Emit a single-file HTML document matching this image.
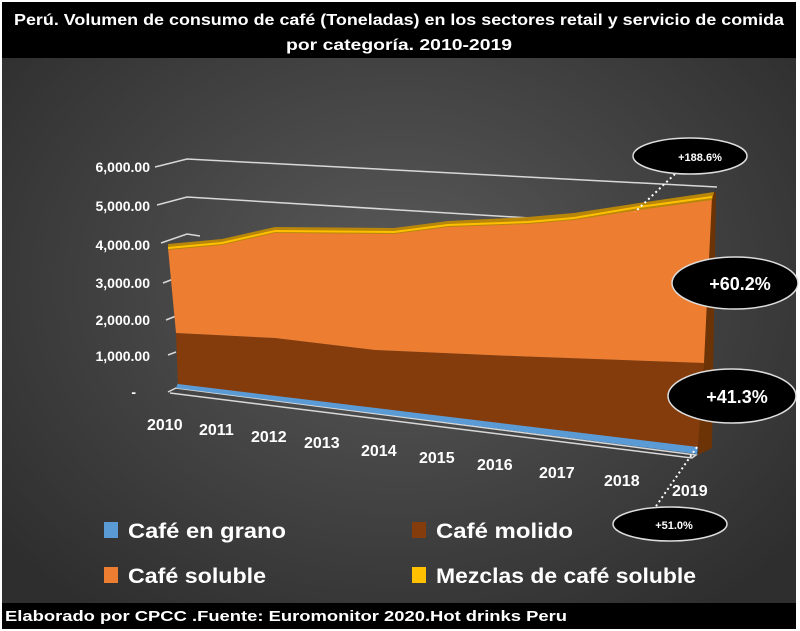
<!DOCTYPE html>
<html><head><meta charset="utf-8"><style>
html,body{margin:0;padding:0;background:#fff}
svg{display:block}
text{font-family:"Liberation Sans",sans-serif;fill:#fff;font-weight:bold}
</style></head><body>
<svg width="800" height="631" viewBox="0 0 800 631">
<defs>
<radialGradient id="bg" cx="50%" cy="45%" r="65%">
<stop offset="0" stop-color="#5a5a5a"/><stop offset="1" stop-color="#2e2e2e"/>
</radialGradient>
</defs>
<rect x="0" y="0" width="800" height="631" fill="#fff"/>
<rect x="2" y="2" width="794" height="627" fill="url(#bg)"/>
<rect x="2" y="2" width="794" height="56" fill="#000"/>
<text x="399" y="25" text-anchor="middle" font-size="16" textLength="770" lengthAdjust="spacingAndGlyphs">Perú. Volumen de consumo de café (Toneladas) en los sectores retail y servicio de comida</text>
<text x="399" y="50" text-anchor="middle" font-size="16" textLength="226" lengthAdjust="spacingAndGlyphs">por categoría. 2010-2019</text>

<g stroke="#d8d8d8" stroke-width="1.5" fill="none">
<polyline points="155,167 187,159 717,187"/>
<polyline points="157,205 187,197 530,218"/>
<polyline points="161,243 187,234 200,236"/>
<line x1="163" y1="283" x2="176" y2="278"/>
<line x1="166" y1="320" x2="176" y2="316"/>
<line x1="168" y1="355" x2="176" y2="352"/>
<polyline points="168,392 176,388 696,455 692,458 170,393"/>
</g>
<g font-size="14" text-anchor="end">
<text x="150" y="172">6,000.00</text>
<text x="150" y="211">5,000.00</text>
<text x="150" y="250">4,000.00</text>
<text x="150" y="288">3,000.00</text>
<text x="150" y="325">2,000.00</text>
<text x="150" y="361">1,000.00</text>
<text x="136" y="397">-</text>
</g>

<polygon points="704,196 716,192 712,448 698,455" fill="#6b3306"/>
<polygon points="178,383 698,446 697,454 176,388" fill="#5b9bd5"/>
<polygon points="176,333 275,338 375,350 513,356 704,363 698,447 178,384" fill="#843c0c"/>
<polygon points="168,248 222,243 275,231 394,232 448,225 528,222 574,218 639,208 712,197 704,363 513,356 375,350 275,338 176,333" fill="#ed7d31"/>
<polygon points="168,244 222,239 275,227 394,228 448,221 528,217 574,213 639,203 714,192 712,200 639,210 574,220 528,224 448,227 394,234 275,233 222,245 168,250" fill="#b8860b"/>
<polyline points="168,248 222,243 275,231 394,232 448,225 528,222 574,218 639,207 712,197" fill="none" stroke="#ffc000" stroke-width="2"/>

<g stroke="#fff" stroke-width="2" stroke-dasharray="2,3" fill="none">
<line x1="675" y1="174" x2="635" y2="212"/>
<line x1="697" y1="447" x2="652" y2="512"/>
</g>
<g fill="#000" stroke="#ddd" stroke-width="1.5">
<ellipse cx="690" cy="156" rx="57" ry="18"/>
<ellipse cx="735" cy="283" rx="63" ry="26"/>
<ellipse cx="732" cy="396" rx="64" ry="27"/>
<ellipse cx="670" cy="524" rx="57" ry="17"/>
</g>
<text x="700" y="161" text-anchor="middle" font-size="11" font-weight="normal">+188.6%</text>
<text x="740" y="290" text-anchor="middle" font-size="18">+60.2%</text>
<text x="737" y="403" text-anchor="middle" font-size="18">+41.3%</text>
<text x="674" y="529" text-anchor="middle" font-size="11" font-weight="normal">+51.0%</text>

<g font-size="16">
<text x="147" y="430">2010</text>
<text x="199" y="435">2011</text>
<text x="251" y="442">2012</text>
<text x="304" y="448">2013</text>
<text x="361" y="456">2014</text>
<text x="419" y="463">2015</text>
<text x="477" y="470">2016</text>
<text x="539" y="478">2017</text>
<text x="604" y="486">2018</text>
<text x="672" y="496">2019</text>
</g>

<rect x="104" y="522" width="14" height="16" fill="#5b9bd5"/>
<rect x="412" y="522" width="14" height="16" fill="#843c0c"/>
<rect x="104" y="567" width="14" height="16" fill="#ed7d31"/>
<rect x="412" y="567" width="14" height="16" fill="#ffc000"/>
<g font-size="21">
<text x="128" y="538" textLength="158" lengthAdjust="spacingAndGlyphs">Café en grano</text>
<text x="436" y="538" textLength="137" lengthAdjust="spacingAndGlyphs">Café molido</text>
<text x="128" y="583" textLength="138" lengthAdjust="spacingAndGlyphs">Café soluble</text>
<text x="436" y="583" textLength="260" lengthAdjust="spacingAndGlyphs">Mezclas de café soluble</text>
</g>

<rect x="2" y="603" width="794" height="26" fill="#000"/>
<text x="5" y="621" font-size="15" textLength="562" lengthAdjust="spacingAndGlyphs">Elaborado por CPCC .Fuente: Euromonitor 2020.Hot drinks Peru</text>
</svg>
</body></html>
